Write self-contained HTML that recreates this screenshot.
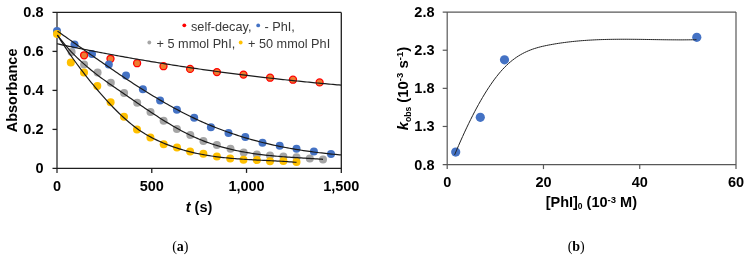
<!DOCTYPE html>
<html><head><meta charset="utf-8"><style>
html,body{margin:0;padding:0;background:#fff;}
body{width:749px;height:259px;overflow:hidden;}
svg{display:block;will-change:transform;}
.b{font-family:"Liberation Sans",sans-serif;font-weight:bold;font-size:14.5px;fill:#000;}
.lg{font-family:"Liberation Sans",sans-serif;font-size:12.7px;fill:#383838;}
.cap{font-family:"Liberation Serif",serif;font-size:14px;fill:#000;}
</style></head><body>
<svg width="749" height="259" viewBox="0 0 749 259">
<line x1="57.00" y1="12.40" x2="57.00" y2="172.90" stroke="#767676" stroke-width="2.0"/>
<line x1="52.50" y1="12.40" x2="341.30" y2="12.40" stroke="#1e1e1e" stroke-width="1.3"/>
<line x1="341.30" y1="12.40" x2="341.30" y2="172.90" stroke="#1e1e1e" stroke-width="1.3"/>
<line x1="52.50" y1="168.40" x2="341.30" y2="168.40" stroke="#1e1e1e" stroke-width="1.3"/>
<line x1="52.50" y1="51.40" x2="57.00" y2="51.40" stroke="#1e1e1e" stroke-width="1.3"/>
<line x1="52.50" y1="90.40" x2="57.00" y2="90.40" stroke="#1e1e1e" stroke-width="1.3"/>
<line x1="52.50" y1="129.40" x2="57.00" y2="129.40" stroke="#1e1e1e" stroke-width="1.3"/>
<line x1="151.77" y1="168.40" x2="151.77" y2="172.90" stroke="#1e1e1e" stroke-width="1.3"/>
<line x1="246.53" y1="168.40" x2="246.53" y2="172.90" stroke="#1e1e1e" stroke-width="1.3"/>
<text x="43.5" y="17.00" text-anchor="end" class="b">0.8</text>
<text x="43.5" y="56.00" text-anchor="end" class="b">0.6</text>
<text x="43.5" y="95.00" text-anchor="end" class="b">0.4</text>
<text x="43.5" y="134.00" text-anchor="end" class="b">0.2</text>
<text x="43.5" y="173.00" text-anchor="end" class="b">0</text>
<text x="57.00" y="190.5" text-anchor="middle" class="b">0</text>
<text x="151.77" y="190.5" text-anchor="middle" class="b">500</text>
<text x="246.53" y="190.5" text-anchor="middle" class="b">1,000</text>
<text x="341.30" y="190.5" text-anchor="middle" class="b">1,500</text>
<text x="199" y="211.5" text-anchor="middle" class="b"><tspan font-style="italic">t</tspan> (s)</text>
<text transform="translate(16.7,90.4) rotate(-90)" text-anchor="middle" class="b">Absorbance</text>
<circle cx="184.3" cy="25.3" r="1.9" fill="#ff0000"/>
<text x="191" y="30.7" class="lg">self-decay,</text>
<circle cx="258.2" cy="25.4" r="1.9" fill="#4472c4"/>
<text x="264.5" y="30.7" class="lg">- PhI,</text>
<circle cx="149.3" cy="42.5" r="1.9" fill="#a5a5a5"/>
<text x="156.6" y="47.8" class="lg">+ 5 mmol PhI,</text>
<circle cx="240.7" cy="42.5" r="1.9" fill="#ffc000"/>
<text x="248" y="47.8" class="lg">+ 50 mmol PhI</text>
<circle cx="84.1" cy="55.3" r="3.4999999999999996" fill="#ed7d31" stroke="#ff0000" stroke-width="1.3"/>
<circle cx="110.5" cy="58.8" r="3.4999999999999996" fill="#ed7d31" stroke="#ff0000" stroke-width="1.3"/>
<circle cx="137.1" cy="63.2" r="3.4999999999999996" fill="#ed7d31" stroke="#ff0000" stroke-width="1.3"/>
<circle cx="163.5" cy="66.2" r="3.4999999999999996" fill="#ed7d31" stroke="#ff0000" stroke-width="1.3"/>
<circle cx="190.1" cy="68.9" r="3.4999999999999996" fill="#ed7d31" stroke="#ff0000" stroke-width="1.3"/>
<circle cx="216.9" cy="72.1" r="3.4999999999999996" fill="#ed7d31" stroke="#ff0000" stroke-width="1.3"/>
<circle cx="243.5" cy="74.6" r="3.4999999999999996" fill="#ed7d31" stroke="#ff0000" stroke-width="1.3"/>
<circle cx="270.1" cy="77.7" r="3.4999999999999996" fill="#ed7d31" stroke="#ff0000" stroke-width="1.3"/>
<circle cx="293" cy="79.7" r="3.4999999999999996" fill="#ed7d31" stroke="#ff0000" stroke-width="1.3"/>
<circle cx="319.6" cy="82.4" r="3.4999999999999996" fill="#ed7d31" stroke="#ff0000" stroke-width="1.3"/>
<circle cx="71.6" cy="52" r="4" fill="#a5a5a5"/>
<circle cx="84.1" cy="64.5" r="4" fill="#a5a5a5"/>
<circle cx="97.6" cy="72.4" r="4" fill="#a5a5a5"/>
<circle cx="110.8" cy="82.8" r="4" fill="#a5a5a5"/>
<circle cx="124.1" cy="92.9" r="4" fill="#a5a5a5"/>
<circle cx="137.2" cy="102.7" r="4" fill="#a5a5a5"/>
<circle cx="150.5" cy="112" r="4" fill="#a5a5a5"/>
<circle cx="163.6" cy="120.8" r="4" fill="#a5a5a5"/>
<circle cx="176.9" cy="128.9" r="4" fill="#a5a5a5"/>
<circle cx="190.3" cy="134.9" r="4" fill="#a5a5a5"/>
<circle cx="203.4" cy="140.9" r="4" fill="#a5a5a5"/>
<circle cx="216.9" cy="145.1" r="4" fill="#a5a5a5"/>
<circle cx="230.5" cy="148.7" r="4" fill="#a5a5a5"/>
<circle cx="243.7" cy="152.5" r="4" fill="#a5a5a5"/>
<circle cx="256.9" cy="154.4" r="4" fill="#a5a5a5"/>
<circle cx="270" cy="155.6" r="4" fill="#a5a5a5"/>
<circle cx="283.4" cy="156.4" r="4" fill="#a5a5a5"/>
<circle cx="296.5" cy="157.2" r="4" fill="#a5a5a5"/>
<circle cx="309.8" cy="158.5" r="4" fill="#a5a5a5"/>
<circle cx="323" cy="159.6" r="4" fill="#a5a5a5"/>
<circle cx="57" cy="30.9" r="4" fill="#4472c4"/>
<circle cx="74.5" cy="44.4" r="4" fill="#4472c4"/>
<circle cx="92" cy="54.1" r="4" fill="#4472c4"/>
<circle cx="108.8" cy="64.4" r="4" fill="#4472c4"/>
<circle cx="126" cy="75.5" r="4" fill="#4472c4"/>
<circle cx="142.9" cy="89.2" r="4" fill="#4472c4"/>
<circle cx="160.1" cy="100.6" r="4" fill="#4472c4"/>
<circle cx="176.9" cy="109.7" r="4" fill="#4472c4"/>
<circle cx="194.2" cy="117.8" r="4" fill="#4472c4"/>
<circle cx="210.9" cy="127.2" r="4" fill="#4472c4"/>
<circle cx="228.5" cy="133.1" r="4" fill="#4472c4"/>
<circle cx="245.3" cy="137.1" r="4" fill="#4472c4"/>
<circle cx="262.5" cy="142.8" r="4" fill="#4472c4"/>
<circle cx="279.7" cy="145.7" r="4" fill="#4472c4"/>
<circle cx="296.5" cy="148.7" r="4" fill="#4472c4"/>
<circle cx="313.9" cy="151.6" r="4" fill="#4472c4"/>
<circle cx="331" cy="154" r="4" fill="#4472c4"/>
<circle cx="57" cy="34.1" r="4" fill="#ffc000"/>
<circle cx="70.8" cy="62.4" r="4" fill="#ffc000"/>
<circle cx="84" cy="72.6" r="4" fill="#ffc000"/>
<circle cx="97.3" cy="86" r="4" fill="#ffc000"/>
<circle cx="110.6" cy="102.2" r="4" fill="#ffc000"/>
<circle cx="124" cy="116.8" r="4" fill="#ffc000"/>
<circle cx="137" cy="129.4" r="4" fill="#ffc000"/>
<circle cx="150.4" cy="137.6" r="4" fill="#ffc000"/>
<circle cx="163.7" cy="144.2" r="4" fill="#ffc000"/>
<circle cx="177" cy="147.4" r="4" fill="#ffc000"/>
<circle cx="190.1" cy="151.4" r="4" fill="#ffc000"/>
<circle cx="203.4" cy="153.8" r="4" fill="#ffc000"/>
<circle cx="216.9" cy="156.6" r="4" fill="#ffc000"/>
<circle cx="230.2" cy="158.5" r="4" fill="#ffc000"/>
<circle cx="243.5" cy="159.7" r="4" fill="#ffc000"/>
<circle cx="256.9" cy="160.1" r="4" fill="#ffc000"/>
<circle cx="270" cy="161.2" r="4" fill="#ffc000"/>
<circle cx="283.4" cy="160.9" r="4" fill="#ffc000"/>
<circle cx="296.5" cy="162" r="4" fill="#ffc000"/>
<path d="M57.0,43.78 L59.0,44.20 L61.0,44.62 L63.0,45.04 L65.0,45.46 L67.0,45.87 L69.0,46.29 L71.0,46.70 L73.0,47.11 L75.0,47.51 L77.0,47.92 L79.0,48.32 L81.0,48.72 L83.0,49.12 L85.0,49.52 L87.0,49.92 L89.0,50.31 L91.0,50.70 L93.0,51.09 L95.0,51.48 L97.0,51.86 L99.0,52.25 L101.0,52.63 L103.0,53.01 L105.0,53.39 L107.0,53.76 L109.0,54.13 L111.0,54.51 L113.0,54.88 L115.0,55.24 L117.0,55.61 L119.0,55.97 L121.0,56.34 L123.0,56.70 L125.0,57.05 L127.0,57.41 L129.0,57.76 L131.0,58.12 L133.0,58.47 L135.0,58.82 L137.0,59.16 L139.0,59.51 L141.0,59.85 L143.0,60.19 L145.0,60.53 L147.0,60.87 L149.0,61.20 L151.0,61.54 L153.0,61.87 L155.0,62.20 L157.0,62.53 L159.0,62.85 L161.0,63.18 L163.0,63.50 L165.0,63.82 L167.0,64.14 L169.0,64.45 L171.0,64.77 L173.0,65.08 L175.0,65.39 L177.0,65.70 L179.0,66.01 L181.0,66.32 L183.0,66.62 L185.0,66.92 L187.0,67.22 L189.0,67.52 L191.0,67.82 L193.0,68.11 L195.0,68.41 L197.0,68.70 L199.0,68.99 L201.0,69.27 L203.0,69.56 L205.0,69.84 L207.0,70.12 L209.0,70.41 L211.0,70.68 L213.0,70.96 L215.0,71.24 L217.0,71.51 L219.0,71.78 L221.0,72.05 L223.0,72.32 L225.0,72.58 L227.0,72.85 L229.0,73.11 L231.0,73.37 L233.0,73.63 L235.0,73.89 L237.0,74.14 L239.0,74.40 L241.0,74.65 L243.0,74.90 L245.0,75.15 L247.0,75.40 L249.0,75.64 L251.0,75.89 L253.0,76.13 L255.0,76.37 L257.0,76.61 L259.0,76.84 L261.0,77.08 L263.0,77.31 L265.0,77.54 L267.0,77.77 L269.0,78.00 L271.0,78.23 L273.0,78.45 L275.0,78.68 L277.0,78.90 L279.0,79.12 L281.0,79.33 L283.0,79.55 L285.0,79.77 L287.0,79.98 L289.0,80.19 L291.0,80.40 L293.0,80.61 L295.0,80.82 L297.0,81.02 L299.0,81.22 L301.0,81.43 L303.0,81.63 L305.0,81.82 L307.0,82.02 L309.0,82.22 L311.0,82.41 L313.0,82.60 L315.0,82.79 L317.0,82.98 L319.0,83.17 L321.0,83.35 L323.0,83.54 L325.0,83.72 L327.0,83.90 L329.0,84.08 L331.0,84.25 L333.0,84.43 L335.0,84.60 L337.0,84.78 L339.0,84.95 L341.0,85.12" fill="none" stroke="#1a1a1a" stroke-width="1.2"/>
<path d="M57.5,31.16 L59.5,32.57 L61.5,33.98 L63.5,35.39 L65.5,36.80 L67.5,38.21 L69.5,39.62 L71.5,41.03 L73.5,42.45 L75.5,43.86 L77.5,45.27 L79.5,46.68 L81.5,48.10 L83.5,49.50 L85.5,50.91 L87.5,52.32 L89.5,53.72 L91.5,55.13 L93.5,56.53 L95.5,57.92 L97.5,59.32 L99.5,60.71 L101.5,62.10 L103.5,63.48 L105.5,64.86 L107.5,66.24 L109.5,67.61 L111.5,68.98 L113.5,70.34 L115.5,71.69 L117.5,73.05 L119.5,74.39 L121.5,75.73 L123.5,77.06 L125.5,78.39 L127.5,79.71 L129.5,81.03 L131.5,82.33 L133.5,83.63 L135.5,84.92 L137.5,86.20 L139.5,87.48 L141.5,88.75 L143.5,90.00 L145.5,91.25 L147.5,92.49 L149.5,93.72 L151.5,94.94 L153.5,96.15 L155.5,97.35 L157.5,98.54 L159.5,99.72 L161.5,100.89 L163.5,102.05 L165.5,103.20 L167.5,104.33 L169.5,105.45 L171.5,106.56 L173.5,107.66 L175.5,108.74 L177.5,109.82 L179.5,110.87 L181.5,111.92 L183.5,112.95 L185.5,113.97 L187.5,114.97 L189.5,115.96 L191.5,116.93 L193.5,117.89 L195.5,118.84 L197.5,119.77 L199.5,120.68 L201.5,121.58 L203.5,122.46 L205.5,123.33 L207.5,124.18 L209.5,125.03 L211.5,125.85 L213.5,126.66 L215.5,127.46 L217.5,128.24 L219.5,129.01 L221.5,129.77 L223.5,130.51 L225.5,131.24 L227.5,131.96 L229.5,132.66 L231.5,133.35 L233.5,134.03 L235.5,134.69 L237.5,135.34 L239.5,135.98 L241.5,136.61 L243.5,137.22 L245.5,137.82 L247.5,138.41 L249.5,138.99 L251.5,139.56 L253.5,140.11 L255.5,140.65 L257.5,141.19 L259.5,141.71 L261.5,142.22 L263.5,142.71 L265.5,143.20 L267.5,143.68 L269.5,144.14 L271.5,144.60 L273.5,145.05 L275.5,145.48 L277.5,145.91 L279.5,146.32 L281.5,146.73 L283.5,147.12 L285.5,147.51 L287.5,147.88 L289.5,148.25 L291.5,148.61 L293.5,148.96 L295.5,149.30 L297.5,149.63 L299.5,149.95 L301.5,150.27 L303.5,150.57 L305.5,150.87 L307.5,151.16 L309.5,151.44 L311.5,151.71 L313.5,151.98 L315.5,152.24 L317.5,152.49 L319.5,152.73 L321.5,152.97 L323.5,153.20 L325.5,153.42 L327.5,153.63 L329.5,153.84 L331.5,154.04 L333.5,154.24 L335.5,154.42 L337.5,154.61 L339.5,154.78 L341.0,154.91" fill="none" stroke="#1a1a1a" stroke-width="1.2"/>
<path d="M57.3,35.02 L59.3,37.67 L61.3,40.23 L63.3,42.70 L65.3,45.09 L67.3,47.40 L69.3,49.63 L71.3,51.79 L73.3,53.88 L75.3,55.90 L77.3,57.87 L79.3,59.77 L81.3,61.62 L83.3,63.42 L85.3,65.17 L87.3,66.88 L89.3,68.56 L91.3,70.19 L93.3,71.79 L95.3,73.36 L97.3,74.90 L99.3,76.41 L101.3,77.90 L103.3,79.37 L105.3,80.81 L107.3,82.24 L109.3,83.65 L111.3,85.05 L113.3,86.44 L115.3,87.82 L117.3,89.19 L119.3,90.56 L121.3,91.93 L123.3,93.30 L125.3,94.67 L127.3,96.04 L129.3,97.42 L131.3,98.79 L133.3,100.17 L135.3,101.55 L137.3,102.92 L139.3,104.29 L141.3,105.66 L143.3,107.02 L145.3,108.38 L147.3,109.73 L149.3,111.07 L151.3,112.40 L153.3,113.72 L155.3,115.04 L157.3,116.34 L159.3,117.63 L161.3,118.90 L163.3,120.16 L165.3,121.40 L167.3,122.63 L169.3,123.84 L171.3,125.03 L173.3,126.20 L175.3,127.35 L177.3,128.48 L179.3,129.59 L181.3,130.68 L183.3,131.74 L185.3,132.77 L187.3,133.78 L189.3,134.76 L191.3,135.71 L193.3,136.63 L195.3,137.53 L197.3,138.40 L199.3,139.24 L201.3,140.05 L203.3,140.84 L205.3,141.60 L207.3,142.34 L209.3,143.05 L211.3,143.74 L213.3,144.41 L215.3,145.05 L217.3,145.67 L219.3,146.27 L221.3,146.85 L223.3,147.40 L225.3,147.94 L227.3,148.45 L229.3,148.95 L231.3,149.42 L233.3,149.88 L235.3,150.32 L237.3,150.74 L239.3,151.15 L241.3,151.54 L243.3,151.91 L245.3,152.26 L247.3,152.61 L249.3,152.93 L251.3,153.25 L253.3,153.55 L255.3,153.83 L257.3,154.11 L259.3,154.37 L261.3,154.62 L263.3,154.86 L265.3,155.09 L267.3,155.30 L269.3,155.51 L271.3,155.71 L273.3,155.90 L275.3,156.09 L277.3,156.26 L279.3,156.43 L281.3,156.59 L283.3,156.75 L285.3,156.90 L287.3,157.04 L289.3,157.18 L291.3,157.32 L293.3,157.45 L295.3,157.58 L297.3,157.71 L299.3,157.84 L301.3,157.96 L303.3,158.08 L305.3,158.20 L307.3,158.33 L309.3,158.45 L311.3,158.57 L313.3,158.70 L315.3,158.82 L317.3,158.95 L319.3,159.08 L321.3,159.22 L323.0,159.34" fill="none" stroke="#1a1a1a" stroke-width="1.2"/>
<path d="M57.3,34.99 L59.3,38.19 L61.3,41.32 L63.3,44.40 L65.3,47.42 L67.3,50.39 L69.3,53.31 L71.3,56.18 L73.3,59.00 L75.3,61.77 L77.3,64.51 L79.3,67.20 L81.3,69.85 L83.3,72.46 L85.3,75.04 L87.3,77.58 L89.3,80.08 L91.3,82.54 L93.3,84.98 L95.3,87.38 L97.3,89.74 L99.3,92.08 L101.3,94.38 L103.3,96.65 L105.3,98.89 L107.3,101.09 L109.3,103.26 L111.3,105.39 L113.3,107.48 L115.3,109.52 L117.3,111.52 L119.3,113.48 L121.3,115.39 L123.3,117.24 L125.3,119.05 L127.3,120.81 L129.3,122.51 L131.3,124.15 L133.3,125.74 L135.3,127.27 L137.3,128.73 L139.3,130.14 L141.3,131.48 L143.3,132.76 L145.3,134.00 L147.3,135.17 L149.3,136.30 L151.3,137.38 L153.3,138.42 L155.3,139.41 L157.3,140.37 L159.3,141.29 L161.3,142.17 L163.3,143.02 L165.3,143.84 L167.3,144.63 L169.3,145.39 L171.3,146.13 L173.3,146.84 L175.3,147.52 L177.3,148.18 L179.3,148.81 L181.3,149.42 L183.3,150.01 L185.3,150.57 L187.3,151.10 L189.3,151.62 L191.3,152.11 L193.3,152.59 L195.3,153.04 L197.3,153.47 L199.3,153.88 L201.3,154.28 L203.3,154.65 L205.3,155.01 L207.3,155.35 L209.3,155.68 L211.3,155.99 L213.3,156.28 L215.3,156.56 L217.3,156.82 L219.3,157.07 L221.3,157.31 L223.3,157.54 L225.3,157.75 L227.3,157.95 L229.3,158.15 L231.3,158.33 L233.3,158.50 L235.3,158.66 L237.3,158.82 L239.3,158.96 L241.3,159.10 L243.3,159.24 L245.3,159.36 L247.3,159.49 L249.3,159.60 L251.3,159.72 L253.3,159.82 L255.3,159.93 L257.3,160.03 L259.3,160.13 L261.3,160.23 L263.3,160.33 L265.3,160.43 L267.3,160.53 L269.3,160.63 L271.3,160.73 L273.3,160.83 L275.3,160.93 L277.3,161.04 L279.3,161.15 L281.3,161.27 L283.3,161.39 L285.3,161.52 L287.3,161.65 L289.3,161.79 L291.3,161.94 L293.3,162.09 L295.3,162.25 L296.5,162.36" fill="none" stroke="#1a1a1a" stroke-width="1.2"/>
<line x1="447.20" y1="12.10" x2="447.20" y2="169.10" stroke="#585858" stroke-width="1.2"/>
<line x1="442.70" y1="12.10" x2="736.00" y2="12.10" stroke="#585858" stroke-width="1.2"/>
<line x1="736.00" y1="12.10" x2="736.00" y2="169.10" stroke="#585858" stroke-width="1.2"/>
<line x1="442.70" y1="164.60" x2="736.00" y2="164.60" stroke="#585858" stroke-width="1.2"/>
<line x1="442.70" y1="50.23" x2="447.20" y2="50.23" stroke="#585858" stroke-width="1.2"/>
<line x1="442.70" y1="88.35" x2="447.20" y2="88.35" stroke="#585858" stroke-width="1.2"/>
<line x1="442.70" y1="126.47" x2="447.20" y2="126.47" stroke="#585858" stroke-width="1.2"/>
<line x1="543.47" y1="164.60" x2="543.47" y2="169.10" stroke="#585858" stroke-width="1.2"/>
<line x1="639.73" y1="164.60" x2="639.73" y2="169.10" stroke="#585858" stroke-width="1.2"/>
<text x="434.5" y="17.10" text-anchor="end" class="b">2.8</text>
<text x="434.5" y="55.23" text-anchor="end" class="b">2.3</text>
<text x="434.5" y="93.35" text-anchor="end" class="b">1.8</text>
<text x="434.5" y="131.47" text-anchor="end" class="b">1.3</text>
<text x="434.5" y="169.60" text-anchor="end" class="b">0.8</text>
<text x="447.20" y="186.5" text-anchor="middle" class="b">0</text>
<text x="543.47" y="186.5" text-anchor="middle" class="b">20</text>
<text x="639.73" y="186.5" text-anchor="middle" class="b">40</text>
<text x="736.00" y="186.5" text-anchor="middle" class="b">60</text>
<circle cx="455.7" cy="152.1" r="4.6" fill="#4472c4"/>
<circle cx="480.3" cy="117.3" r="4.6" fill="#4472c4"/>
<circle cx="504.5" cy="59.8" r="4.6" fill="#4472c4"/>
<circle cx="696.8" cy="37.3" r="4.6" fill="#4472c4"/>
<path d="M454.6,154.90 L456.6,150.17 L458.6,145.53 L460.6,140.98 L462.6,136.52 L464.6,132.15 L466.6,127.88 L468.6,123.71 L470.6,119.64 L472.6,115.66 L474.6,111.79 L476.6,108.03 L478.6,104.37 L480.6,100.82 L482.6,97.38 L484.6,94.05 L486.6,90.83 L488.6,87.73 L490.6,84.75 L492.6,81.89 L494.6,79.14 L496.6,76.52 L498.6,74.02 L500.6,71.65 L502.6,69.41 L504.6,67.29 L506.6,65.31 L508.6,63.45 L510.6,61.71 L512.6,60.10 L514.6,58.59 L516.6,57.19 L518.6,55.89 L520.6,54.68 L522.6,53.57 L524.6,52.54 L526.6,51.60 L528.6,50.73 L530.6,49.93 L532.6,49.19 L534.6,48.52 L536.6,47.90 L538.6,47.33 L540.6,46.81 L542.6,46.32 L544.6,45.88 L546.6,45.46 L548.6,45.06 L550.6,44.69 L552.6,44.33 L554.6,43.98 L556.6,43.65 L558.6,43.34 L560.6,43.04 L562.6,42.76 L564.6,42.49 L566.6,42.23 L568.6,41.98 L570.6,41.75 L572.6,41.53 L574.6,41.33 L576.6,41.13 L578.6,40.95 L580.6,40.78 L582.6,40.62 L584.6,40.47 L586.6,40.33 L588.6,40.20 L590.6,40.08 L592.6,39.97 L594.6,39.87 L596.6,39.78 L598.6,39.70 L600.6,39.62 L602.6,39.56 L604.6,39.50 L606.6,39.44 L608.6,39.40 L610.6,39.36 L612.6,39.33 L614.6,39.31 L616.6,39.29 L618.6,39.27 L620.6,39.26 L622.6,39.26 L624.6,39.26 L626.6,39.26 L628.6,39.27 L630.6,39.29 L632.6,39.30 L634.6,39.32 L636.6,39.34 L638.6,39.37 L640.6,39.39 L642.6,39.42 L644.6,39.45 L646.6,39.48 L648.6,39.51 L650.6,39.54 L652.6,39.57 L654.6,39.60 L656.6,39.63 L658.6,39.67 L660.6,39.69 L662.6,39.72 L664.6,39.75 L666.6,39.77 L668.6,39.80 L670.6,39.81 L672.6,39.83 L674.6,39.84 L676.6,39.85 L678.6,39.86 L680.6,39.86 L682.6,39.86 L684.6,39.85 L686.6,39.84 L688.6,39.82 L690.6,39.80 L692.6,39.77 L694.6,39.73 L696.5,39.69" fill="none" stroke="#222" stroke-width="1.0"/>
<text x="591.3" y="207" text-anchor="middle" class="b">[PhI]<tspan font-size="8.5" dy="2">0</tspan><tspan dy="-2"> (10</tspan><tspan font-size="9.5" dy="-4">-3</tspan><tspan dy="4"> M)</tspan></text>
<text transform="translate(407.7,88.6) rotate(-90)" text-anchor="middle" class="b" style="font-size:14.9px"><tspan font-style="italic">k</tspan><tspan font-size="8.6" dy="3.6">obs</tspan><tspan dy="-3.6"> (10</tspan><tspan font-size="9.5" dy="-4.8">-3</tspan><tspan dy="4.8"> s</tspan><tspan font-size="9.5" dy="-4.8">-1</tspan><tspan dy="4.8">)</tspan></text>
<text x="180.3" y="250.5" text-anchor="middle" class="cap">(<tspan font-weight="bold">a</tspan>)</text>
<text x="576.2" y="250.5" text-anchor="middle" class="cap">(<tspan font-weight="bold">b</tspan>)</text>
</svg>
</body></html>
